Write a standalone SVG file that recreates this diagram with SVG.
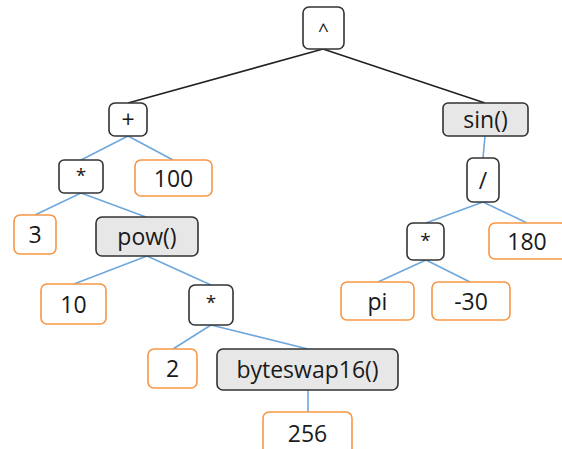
<svg xmlns="http://www.w3.org/2000/svg" width="562" height="449" viewBox="0 0 562 449">
<style>
.op{fill:#fff;stroke:#333;stroke-width:1.6}
.fn{fill:#e7e7e7;stroke:#333;stroke-width:1.6}
.lf{fill:#fff;stroke:#f79646;stroke-width:1.6}
.t{font-family:"Open Sans","Noto Sans",sans-serif;font-size:23px;fill:#1a1a1a;text-anchor:middle}
.s{font-size:19px}
.bk{stroke:#222;stroke-width:1.6;fill:none}
.bl{stroke:#6fa8dc;stroke-width:1.6;fill:none}
</style>
<rect width="562" height="449" fill="#fff"/>
<g id="connectors">
<line class="bk" x1="323" y1="49" x2="128" y2="103"/>
<line class="bk" x1="323" y1="49" x2="485" y2="103"/>
<line class="bl" x1="128" y1="136" x2="81" y2="160"/>
<line class="bl" x1="128" y1="136" x2="173" y2="160"/>
<line class="bl" x1="81" y1="193" x2="35" y2="215"/>
<line class="bl" x1="81" y1="193" x2="146" y2="217"/>
<line class="bl" x1="147" y1="256" x2="74" y2="284"/>
<line class="bl" x1="147" y1="256" x2="211" y2="285"/>
<line class="bl" x1="211" y1="325" x2="173" y2="349"/>
<line class="bl" x1="211" y1="325" x2="308" y2="349"/>
<line class="bl" x1="308" y1="390" x2="308" y2="412"/>
<line class="bl" x1="485" y1="136" x2="483" y2="158"/>
<line class="bl" x1="483" y1="202" x2="426" y2="223"/>
<line class="bl" x1="483" y1="202" x2="527" y2="223"/>
<line class="bl" x1="426" y1="260" x2="378" y2="282"/>
<line class="bl" x1="426" y1="260" x2="470" y2="282"/>
</g>
<g id="n-pow-op"><rect class="op" x="303" y="7" width="41" height="42" rx="6"/><text class="t s" x="323.5" y="37">^</text></g>
<g id="n-plus"><rect class="op" x="109" y="103" width="38" height="33" rx="6"/><text class="t" x="128" y="128">+</text></g>
<g id="n-sin"><rect class="fn" x="443" y="103" width="85" height="33" rx="5"/><text class="t" x="485.5" y="128">sin()</text></g>
<g id="n-mul1"><rect class="op" x="59" y="160" width="44" height="33" rx="5"/><text class="t s" x="81" y="182">*</text></g>
<g id="n-100"><rect class="lf" x="135" y="160" width="77" height="36" rx="6"/><text class="t" x="173.5" y="186.5">100</text></g>
<g id="n-div"><rect class="op" x="467" y="158" width="32" height="44" rx="6"/><text class="t" x="483" y="188.5">/</text></g>
<g id="n-3"><rect class="lf" x="14" y="215" width="42" height="39" rx="6"/><text class="t" x="35" y="242.5">3</text></g>
<g id="n-powfn"><rect class="fn" x="96" y="217" width="102" height="39" rx="6"/><text class="t" x="147" y="244.5">pow()</text></g>
<g id="n-mul3"><rect class="op" x="407" y="223" width="37" height="37" rx="6"/><text class="t s" x="425.5" y="247">*</text></g>
<g id="n-180"><rect class="lf" x="489" y="223" width="78" height="36" rx="6"/><text class="t" x="527" y="249.5">180</text></g>
<g id="n-10"><rect class="lf" x="41" y="284" width="65" height="40" rx="6"/><text class="t" x="73.5" y="312.5">10</text></g>
<g id="n-mul2"><rect class="op" x="189" y="285" width="44" height="40" rx="6"/><text class="t s" x="211" y="309">*</text></g>
<g id="n-pi"><rect class="lf" x="341" y="282" width="73" height="38" rx="6"/><text class="t" x="377.5" y="309.5">pi</text></g>
<g id="n-m30"><rect class="lf" x="432" y="282" width="78" height="38" rx="6"/><text class="t" x="471" y="309.5">-30</text></g>
<g id="n-2"><rect class="lf" x="148" y="349" width="49" height="39" rx="6"/><text class="t" x="172.5" y="376.5">2</text></g>
<g id="n-bswap"><rect class="fn" x="217" y="349" width="181" height="41" rx="6"/><text class="t" x="307.5" y="377.5">byteswap16()</text></g>
<g id="n-256"><rect class="lf" x="263" y="412" width="89" height="44" rx="6"/><text class="t" x="307.5" y="441.5">256</text></g>
</svg>
